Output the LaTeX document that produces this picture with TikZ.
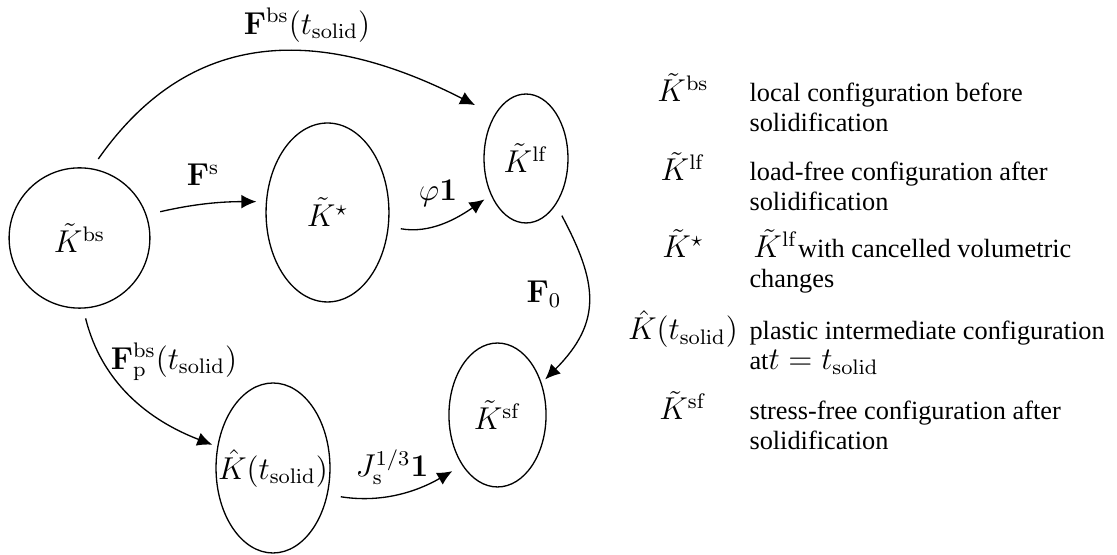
\documentclass[tikz,border=0pt]{standalone}
\usepackage[no-math]{fontspec}
\setmainfont{Liberation Serif}
\usetikzlibrary{arrows.meta, shapes.geometric}
\newcommand\mfont{\fontsize{12pt}{14pt}\selectfont}
\newcommand\tfont{\fontsize{10pt}{11.4pt}\selectfont}
\tikzset{
  conf/.style={draw, ellipse, inner sep=0pt, line width=0.5pt},
  arr/.style={-{Latex[length=5.7pt,width=5.2pt]}, line width=0.5pt},
  lbl/.style={inner sep=0pt, font=\mfont},
  sym/.style={anchor=base, inner sep=0pt, font=\mfont},
  desc/.style={anchor=base west, inner sep=0pt, font=\tfont},
}
\begin{document}
\begin{tikzpicture}[x=0.38pt, y=-0.38pt, font=\mfont]
\useasboundingbox (0,0) rectangle (1117,555);

% configurations
\node[conf, minimum width=53.5pt, minimum height=53.3pt,
      label={[name=bstxt]center:$\tilde K^{\mathrm{bs}}$}] (bs) at (79.5,238) {};
\node[conf, minimum width=46.7pt, minimum height=68pt,
      label={[name=kstartxt]center:$\tilde K^{\star}$}] (kstar) at (327.5,212.5) {};
\node[conf, minimum width=31.9pt, minimum height=49pt,
      label={[name=lftxt]center:$\tilde K^{\mathrm{lf}}$}] (lf) at (526,158.5) {};
\node[conf, minimum width=36.9pt, minimum height=54.7pt,
      label={[name=sftxt]center:$\tilde K^{\mathrm{sf}}$}] (sf) at (497.5,415) {};
\node[conf, minimum width=43.3pt, minimum height=64.6pt,
      label={[name=khattxt]center:$\hat K(t_{\mathrm{solid}})$}] (khat) at (273,468) {};

% connectors
\draw[arr, shorten <=4.3pt, shorten >=8.2pt] (bs.80) to[out=55, in=153, looseness=1.15] (lf.126);
\draw[arr, shorten <=5.3pt, shorten >=3.6pt] (bs.19) to[out=13, in=180] (kstar.170);
\draw[arr, shorten <=4.6pt, shorten >=2.9pt] (kstar.-13) to[out=-10, in=215] (lf.226);
\draw[arr, shorten <=4.7pt, shorten >=1.9pt] (lf.-57) to[out=-62, in=45, looseness=1.25] (sf.36);
\draw[arr, shorten <=3.8pt, shorten >=2pt] (bs.-87) to[out=-76, in=159] (khat.159);
\draw[arr, shorten <=5pt, shorten >=4.3pt] (khat.-26) to[out=-9, in=210] (sf.235);

% connector labels
\node[lbl] (lFbs) at (307,25) {$\mathbf F^{\mathrm{bs}}(t_{\mathrm{solid}})$};
\node[lbl] (lFs) at (203,175) {$\mathbf F^{\mathrm{s}}$};
\node[lbl] (lphi) at (438,193) {$\varphi\mathbf 1$};
\node[lbl] (lF0) at (544,294) {$\mathbf F_0$};
\node[lbl] (lFp) at (174,362) {$\mathbf F^{\mathrm{bs}}_{\mathrm p}(t_{\mathrm{solid}})$};
\node[lbl] (lJ) at (392,467) {$J_{\mathrm s}^{1/3}\mathbf 1$};

% legend
\node[sym] (s1) at (683,102) {$\tilde K^{\mathrm{bs}}$};
\node[desc] (d1) at (749,102) {\begin{tabular}[t]{@{}l@{}}local configuration before\\ solidification\end{tabular}};
\node[sym] (s2) at (683,181) {$\tilde K^{\mathrm{lf}}$};
\node[desc] (d2) at (749,181) {\begin{tabular}[t]{@{}l@{}}load-free configuration after\\ solidification\end{tabular}};
\node[sym] (s3) at (683,258) {$\tilde K^{\star}$};
\node[desc] (d3) at (749,258) {\begin{tabular}[t]{@{}l@{}}\hspace{1.5pt}{\mfont$\tilde K^{\mathrm{lf}}$}with cancelled volumetric\\ changes\end{tabular}};
\node[sym] (s4) at (683,340) {$\hat K(t_{\mathrm{solid}})$};
\node[desc] (d4) at (749,340) {\begin{tabular}[t]{@{}l@{}}plastic intermediate configuration\\ at{\mfont$t=t_{\mathrm{solid}}$}\end{tabular}};
\node[sym] (s5) at (683,420) {$\tilde K^{\mathrm{sf}}$};
\node[desc] (d5) at (749,420) {\begin{tabular}[t]{@{}l@{}}stress-free configuration after\\ solidification\end{tabular}};
\end{tikzpicture}
\end{document}
